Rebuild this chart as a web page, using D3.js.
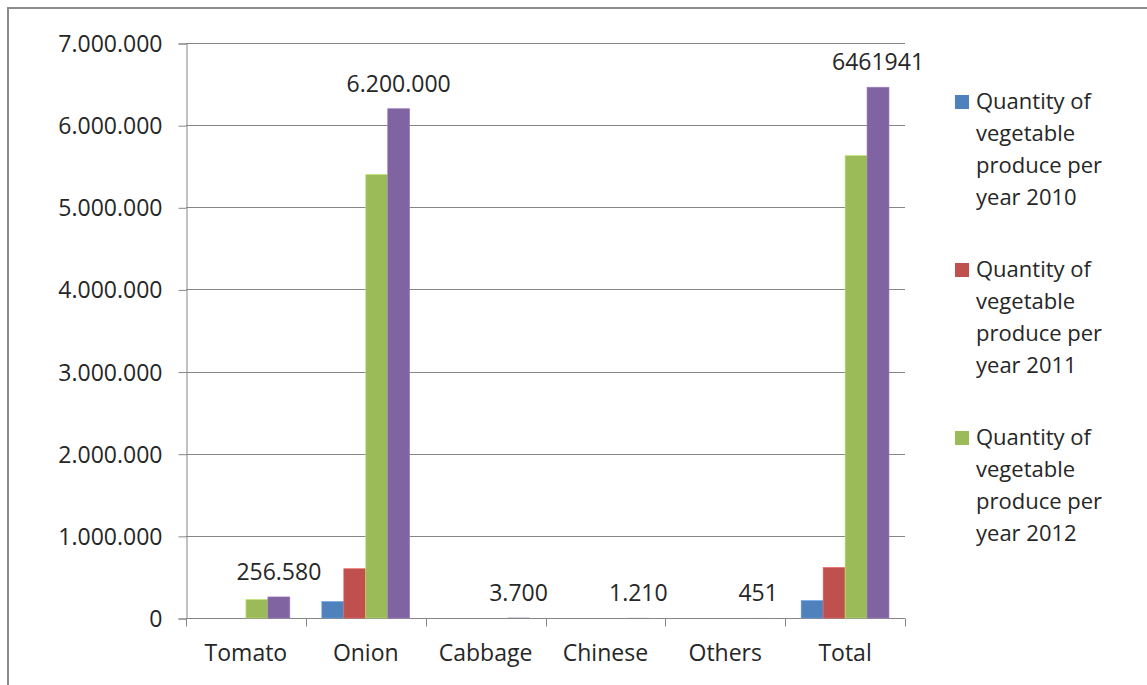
<!DOCTYPE html>
<html>
<head>
<meta charset="utf-8">
<script src="https://cdn.jsdelivr.net/npm/d3@7/dist/d3.min.js"></script>
<style>
  body { margin: 0; background: #fff; }
  svg text { font-family: "Open Sans", sans-serif; fill: #262626; }
</style>
</head>
<body>
<svg id="chart" width="1147" height="685"></svg>
<script>
// data
var categories = ["Tomato", "Onion", "Cabbage", "Chinese", "Others", "Total"];
var y2010 = [0, 200000, 0, 0, 0, 212000];
var y2011 = [0, 600000, 0, 0, 0, 615000];
var y2012 = [225000, 5400000, 0, 0, 0, 5630000];
var series4 = [256580, 6200000, 3700, 1210, 451, 6461941];
var series4Labels = ["256.580", "6.200.000", "3.700", "1.210", "451", "6461941"];
var yTicks = [0, 1000000, 2000000, 3000000, 4000000, 5000000, 6000000, 7000000];
var legendNames = [
  ["Quantity of", "vegetable", "produce per", "year 2010"],
  ["Quantity of", "vegetable", "produce per", "year 2011"],
  ["Quantity of", "vegetable", "produce per", "year 2012"]
];
var colors = ["#4F81BD", "#C0504D", "#9BBB59", "#8064A2"];
var allSeries = [y2010, y2011, y2012, series4];

var svg = d3.select("#chart");

// outer frame
svg.append("rect")
    .attr("x", 8).attr("y", 8)
    .attr("width", 1160).attr("height", 700)
    .attr("fill", "none")
    .attr("stroke", "#8c8c8c")
    .attr("stroke-width", 2);

var plotLeft = 186, plotRight = 905, plotTop = 43, plotBottom = 618;

var x = d3.scaleBand().domain(categories).range([plotLeft, plotRight]).paddingInner(0).paddingOuter(0);
var y = d3.scaleLinear().domain([0, 7000000]).range([plotBottom, plotTop]);
var xs = d3.scaleBand().domain(d3.range(4)).range([16, x.bandwidth() - 16]);

var fmt = function(d) { return d === 0 ? "0" : d3.format(",")(d).replace(/,/g, "."); };

// gridlines
svg.append("g")
    .selectAll("line")
    .data(yTicks.slice(1))
    .join("line")
    .attr("x1", plotLeft).attr("x2", plotRight)
    .attr("y1", function(d) { return Math.round(y(d)) + 0.5; })
    .attr("y2", function(d) { return Math.round(y(d)) + 0.5; })
    .attr("stroke", "#868686");

// y axis
var yAxis = d3.axisLeft(y).tickValues(yTicks).tickFormat(fmt).tickSize(8).tickPadding(16);
var gy = svg.append("g").attr("transform", "translate(" + (plotLeft + 0.5) + ",0.5)").call(yAxis);
gy.select(".domain").attr("stroke", "#868686");
gy.selectAll(".tick line").attr("stroke", "#868686");
gy.selectAll("text").style("font-size", "23px").attr("fill", "#262626").attr("dy", "0.35em");

// x axis
var gx = svg.append("g").attr("transform", "translate(0," + (plotBottom + 0.5) + ")");
gx.append("line").attr("x1", plotLeft).attr("x2", plotRight).attr("stroke", "#868686");
gx.selectAll(".tk")
    .data(d3.range(categories.length + 1))
    .join("line")
    .attr("class", "tk")
    .attr("x1", function(i) { return Math.round(plotLeft + i * x.step()) + 0.5; })
    .attr("x2", function(i) { return Math.round(plotLeft + i * x.step()) + 0.5; })
    .attr("y1", 0).attr("y2", 8)
    .attr("stroke", "#868686");
gx.selectAll("text")
    .data(categories)
    .join("text")
    .attr("x", function(d) { return x(d) + x.bandwidth() / 2; })
    .attr("y", 42)
    .attr("text-anchor", "middle")
    .style("font-size", "23px")
    .text(function(d) { return d; });

// bars
allSeries.forEach(function(vals, si) {
  svg.append("g")
      .selectAll("rect")
      .data(vals)
      .join("rect")
      .attr("x", function(d, i) { return x(categories[i]) + xs(si); })
      .attr("y", function(d) { return y(d); })
      .attr("width", xs.bandwidth())
      .attr("height", function(d) { return y(0) - y(d); })
      .attr("fill", colors[si])
      // tiny values stay invisible, as in the original
      .attr("stroke", function(d) { return (y(0) - y(d)) > 1 ? d3.color(colors[si]).brighter(0.6) : "none"; })
      .attr("stroke-width", 0.6);
});

// labels above the fourth series
svg.append("g")
    .selectAll("text")
    .data(series4)
    .join("text")
    .attr("x", function(d, i) { return x(categories[i]) + xs(3) + xs.bandwidth() / 2; })
    .attr("y", function(d) { return y(d) - 17; })
    .attr("text-anchor", "middle")
    .style("font-size", "23px")
    .text(function(d, i) { return series4Labels[i]; });

// legend
var lg = svg.append("g");
legendNames.forEach(function(lines, i) {
  var cy = 101 + i * 168;
  lg.append("rect")
      .attr("x", 955).attr("y", cy - 6)
      .attr("width", 14).attr("height", 14)
      .attr("fill", colors[i]);
  lines.forEach(function(t, j) {
    lg.append("text")
        .attr("x", 976)
        .attr("y", cy + j * 32 + 8)
        .style("font-size", "22px")
        .text(t);
  });
});
</script>
</body>
</html>
